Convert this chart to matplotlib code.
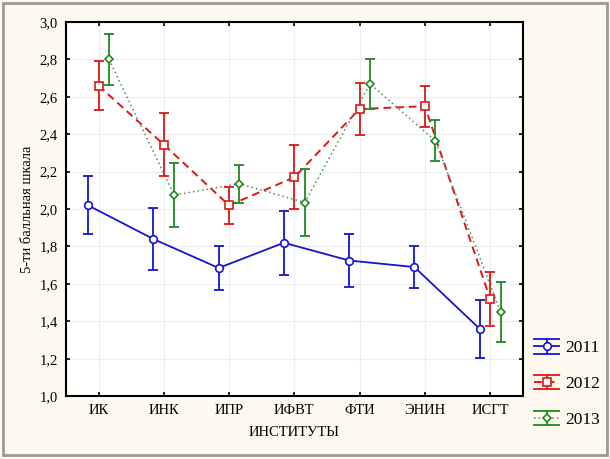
import numpy as np
import matplotlib
matplotlib.use("Agg")
import matplotlib.pyplot as plt
from matplotlib.lines import Line2D
from matplotlib.legend_handler import HandlerBase
from matplotlib.patches import Rectangle
from matplotlib.ticker import FuncFormatter, MultipleLocator

plt.rcParams['font.family'] = ['Liberation Serif', 'DejaVu Serif']

institutes = ['ИК', 'ИНК', 'ИПР', 'ИФВТ', 'ФТИ', 'ЭНИН', 'ИСГТ']
years = ['2011', '2012', '2013']

mean_2011 = [2.02, 1.84, 1.685, 1.82, 1.725, 1.69, 1.36]
err_2011 = [0.155, 0.165, 0.12, 0.17, 0.14, 0.11, 0.155]

mean_2012 = [2.66, 2.345, 2.02, 2.17, 2.535, 2.55, 1.52]
err_2012 = [0.13, 0.17, 0.10, 0.17, 0.14, 0.11, 0.145]

mean_2013 = [2.80, 2.075, 2.135, 2.035, 2.67, 2.365, 1.45]
err_2013 = [0.135, 0.17, 0.10, 0.18, 0.135, 0.11, 0.16]

bg = '#FDF9EF'
styles = [
    dict(color='#1515D0', ls='-', marker='o', ms=5.5, lw=1.3, dx=-0.16),
    dict(color='#E01515', ls=(0, (4, 2.5)), marker='s', ms=6, lw=1.4, dx=0.0),
    dict(color='#1E8A1E', ls=(0, (1, 2)), marker='D', ms=3.6, lw=1.1, dx=0.16),
]
line_colors = ['#1515D0', '#E01515', '#4F8F5F']


class ErrbarHandler(HandlerBase):
    def create_artists(self, legend, orig_handle, xdescent, ydescent,
                       width, height, fontsize, trans):
        st = orig_handle.st
        cx = width / 2 - xdescent
        cy = height / 2 - ydescent
        h = 0.42 * fontsize
        arts = []
        for yy in (cy - h, cy + h):
            arts.append(Line2D([-xdescent, width - xdescent], [yy, yy],
                               color=st['color'], lw=1.3, transform=trans))
        arts.append(Line2D([cx, cx], [cy - h, cy + h], color=st['color'],
                           lw=1.3, transform=trans))
        arts.append(Line2D([-xdescent, width - xdescent], [cy, cy],
                           color=orig_handle.lc, lw=st['lw'], ls=st['ls'],
                           transform=trans))
        arts.append(Line2D([cx], [cy], marker=st['marker'], ms=st['ms'],
                           mfc='white', mec=st['color'], mew=1.2,
                           transform=trans))
        return arts


class Entry:
    def __init__(self, st, lc):
        self.st = st
        self.lc = lc


fig = plt.figure(figsize=(6.1, 4.59), dpi=100, facecolor=bg)
ax = fig.add_axes([0.108, 0.137, 0.749, 0.815])
ax.set_facecolor('white')

x = np.arange(len(institutes))
series = [(mean_2011, err_2011), (mean_2012, err_2012), (mean_2013, err_2013)]
for (m, e), st, lc in zip(series, styles, line_colors):
    xs = x + st['dx']
    ax.plot(xs, m, color=lc, ls=st['ls'], lw=st['lw'], zorder=3)
    ax.errorbar(xs, m, yerr=e, fmt='none', ecolor=st['color'], elinewidth=1.3,
                capsize=3.5, capthick=1.3, zorder=4)
    ax.plot(xs, m, ls='none', marker=st['marker'], ms=st['ms'], mfc='white',
            mec=st['color'], mew=1.2, zorder=5)

ax.set_xlim(-0.5, len(institutes) - 0.5)
ax.set_ylim(1.0, 3.0)
ax.set_xticks(x)
ax.set_xticklabels(institutes)
ax.yaxis.set_major_locator(MultipleLocator(0.2))
ax.yaxis.set_major_formatter(FuncFormatter(lambda v, p: ('%.1f' % v).replace('.', ',')))
ax.grid(True, color='#EDEDED', lw=0.8)
ax.set_axisbelow(True)
ax.tick_params(direction='in', length=3, width=1.2, top=True, right=True,
               labelsize=10.5, pad=6, colors='black')
for s in ax.spines.values():
    s.set_linewidth(1.5)

ax.set_xlabel('ИНСТИТУТЫ', fontsize=10.5, labelpad=6)
ax.set_ylabel('5-ти балльная шкала', fontsize=10.5, labelpad=4)

handles = [Entry(st, lc) for st, lc in zip(styles, line_colors)]
fig.legend(handles, years, handler_map={Entry: ErrbarHandler()},
           loc='center left', bbox_to_anchor=(0.85, 0.165), frameon=False,
           fontsize=12.5, handlelength=1.45, handleheight=1.0, labelspacing=1.05,
           handletextpad=0.35)

fig.patches.append(Rectangle((0.005, 0.008), 0.99, 0.985, transform=fig.transFigure,
                             fill=False, edgecolor='#9A9A9A', lw=2))

fig.savefig('out.png', dpi=100, facecolor=bg)
